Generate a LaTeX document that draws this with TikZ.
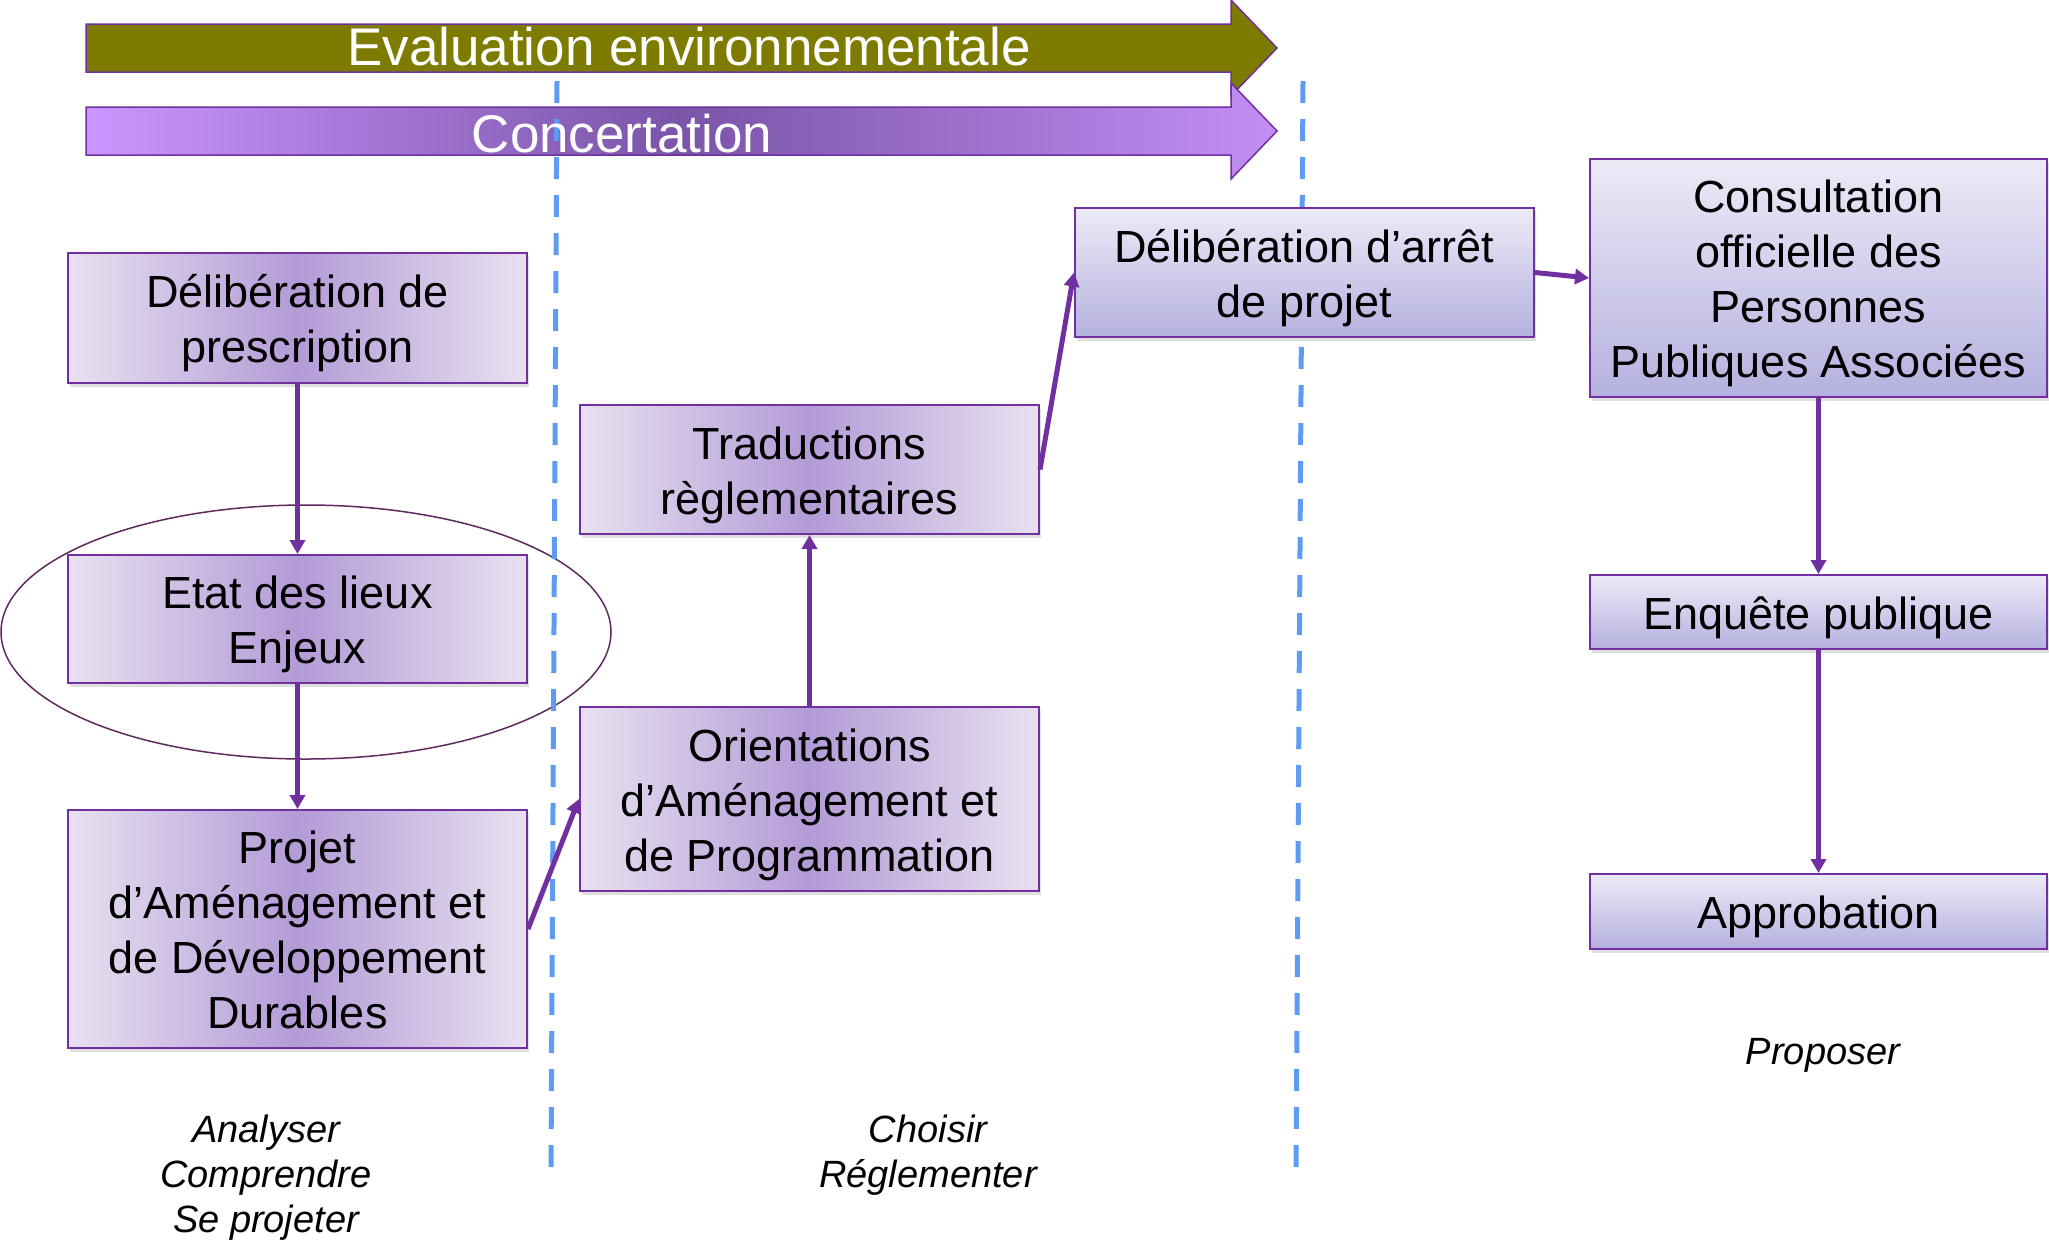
\documentclass[tikz,border=0pt]{standalone}
\usepackage{fontspec}
\setmainfont{Liberation Sans}
\usepackage{xcolor}
\usetikzlibrary{arrows.meta,shadows}
\definecolor{violetline}{HTML}{7030A0}
\definecolor{olivearrow}{HTML}{7D7B00}
\definecolor{mauvelight}{HTML}{E8E1F1}
\definecolor{mauvedark}{HTML}{B39BD6}
\definecolor{bluetop}{HTML}{EBEBF7}
\definecolor{bluebottom}{HTML}{B5B1DF}
\definecolor{concleft}{HTML}{CC95FF}
\definecolor{concmid}{HTML}{7A55A8}
\definecolor{concright}{HTML}{C48EF5}
\definecolor{phaseline}{HTML}{5E9BF2}
\definecolor{ringcol}{HTML}{5C2A5E}
\newcommand\lignehaute{\rule{0pt}{44pt}}

\begin{document}
\begin{tikzpicture}[x=1pt,y=-1pt,
  etape/.style={draw=violetline, line width=2pt, align=center,
    font=\fontsize{45}{55}\selectfont, minimum width=459pt, inner sep=0pt,
    execute at end node={\rule[-10pt]{0pt}{0pt}},
    drop shadow={opacity=.25, shadow xshift=2pt, shadow yshift=-4pt}},
  analyse/.style={etape, left color=mauvelight, right color=mauvelight, middle color=mauvedark},
  procedure/.style={etape, top color=bluetop, bottom color=bluebottom},
  fleche/.style={violetline, line width=5pt, -{Triangle[width=15pt,length=14pt]}},
  phase/.style={phaseline, line width=5pt, dash pattern=on 22pt off 16pt},
  verbe/.style={align=center, font=\fontsize{38}{45}\selectfont\itshape}]
\useasboundingbox (0,0) rectangle (2049,1243);

% bandeaux du haut
\path[fill=olivearrow, draw=violetline, line width=1.5pt]
  (86,24) -- (1231,24) -- (1231,0) -- (1277,48) -- (1231,96) -- (1231,72) -- (86,72) -- cycle;
\path[left color=concleft, right color=concright, middle color=concmid, draw=violetline, line width=1.5pt]
  (86,107) -- (1231,107) -- (1231,83) -- (1277,131) -- (1231,179) -- (1231,155) -- (86,155) -- cycle;

\draw[ringcol, line width=1.5pt] (306,632) ellipse [x radius=305, y radius=127];

% limites des phases
\draw[phase] (557,81) -- (551,1170);
\draw[phase] (1303,81) -- (1296,1170);

\node[text=white, font=\fontsize{53}{60}\selectfont] (evaluation) at (689,47) {Evaluation environnementale};
\node[text=white, font=\fontsize{53}{60}\selectfont] (concertation) at (622,134) {Concertation};

\node[analyse, minimum height=130pt] (prescription) at (297.5,318) {\lignehaute Délibération de\\prescription};
\node[analyse, minimum height=128pt] (etat) at (297.5,619) {\lignehaute Etat des lieux\\Enjeux};
\node[analyse, minimum height=238pt] (padd) at (297.5,929) {\lignehaute Projet\\d’Aménagement et\\de Développement\\Durables};
\node[analyse, minimum height=129pt] (traductions) at (809.5,469.5) {\lignehaute Traductions\\règlementaires};
\node[analyse, minimum height=184pt] (oap) at (809.5,799) {\lignehaute Orientations\\d’Aménagement et\\de Programmation};
\node[procedure, minimum height=129pt] (arret) at (1304.5,272.5) {\lignehaute Délibération d’arrêt\\de projet};
\node[procedure, minimum height=238pt, minimum width=457pt] (ppa) at (1818.5,278) {\lignehaute Consultation\\officielle des\\Personnes\\Publiques Associées};
\node[procedure, minimum height=74pt, minimum width=457pt] (enquete) at (1818.5,612) {\lignehaute Enquête publique};
\node[procedure, minimum height=75pt, minimum width=457pt] (approbation) at (1818.5,911.5) {\lignehaute Approbation};

\draw[fleche] (prescription) -- (etat);
\draw[fleche] (etat) -- (padd);
\draw[fleche] (padd.east) -- (oap.west);
\draw[fleche] (oap) -- (traductions);
\draw[fleche] (traductions.east) -- (arret.west);
\draw[fleche] (arret.east) -- (ppa.west);
\draw[fleche] (ppa) -- (enquete);
\draw[fleche] (enquete) -- (approbation);

\node[verbe] (analyser) at (266,1178) {Analyser\\Comprendre\\Se projeter};
\node[verbe] (choisir) at (928,1155) {Choisir\\Réglementer};
\node[verbe] (proposer) at (1823,1055) {Proposer};
\end{tikzpicture}
\end{document}
